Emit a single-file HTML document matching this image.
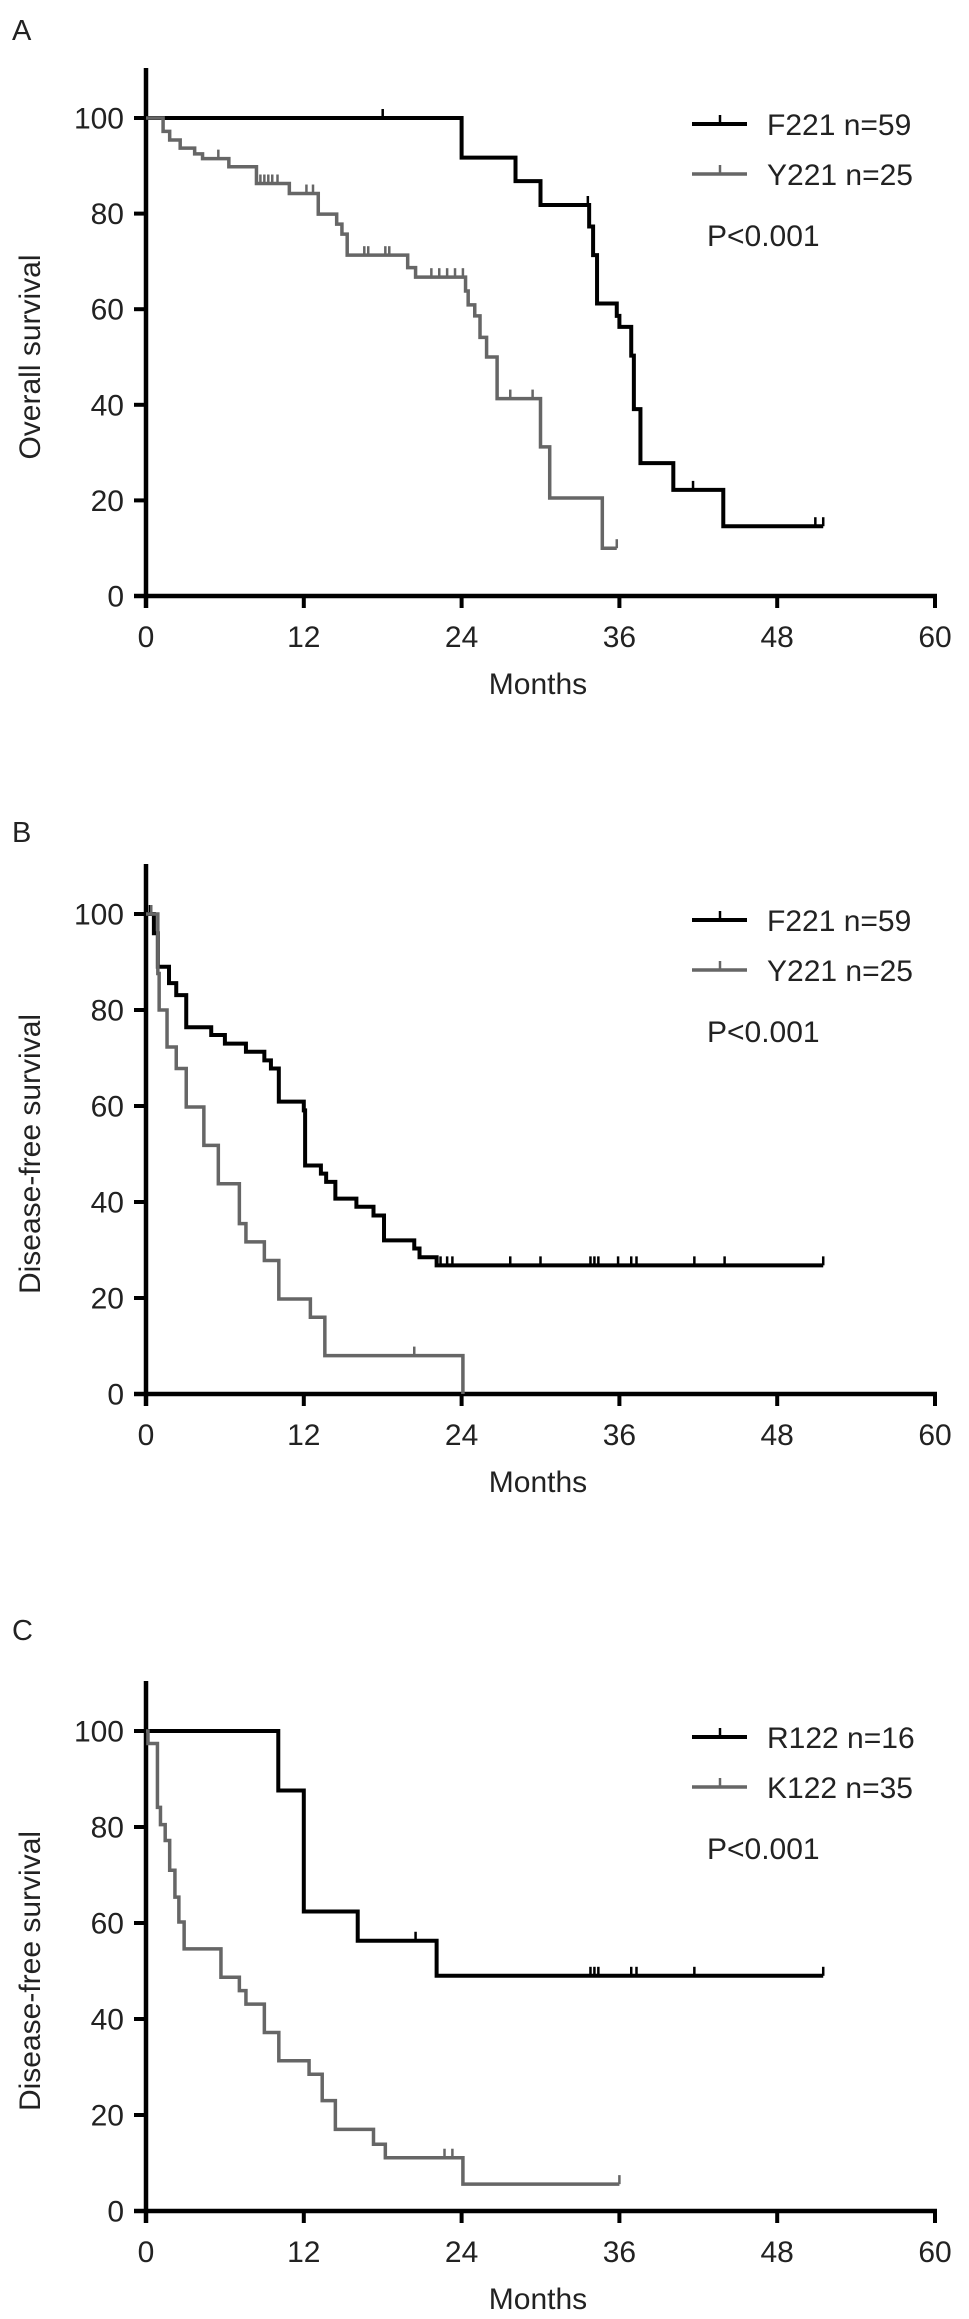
<!DOCTYPE html>
<html><head><meta charset="utf-8">
<style>
html,body{margin:0;padding:0;background:#fff;}
svg{display:block;font-family:"Liberation Sans",Arial,sans-serif;}
</style></head>
<body>
<svg id="fig" width="969" height="2319" viewBox="0 0 969 2319" xmlns="http://www.w3.org/2000/svg"></svg>
<script>
// ---- shared axis data ----
const xTicks = [0, 12, 24, 36, 48, 60];
const yTicks = [0, 20, 40, 60, 80, 100];

// ---- Panel A: overall survival ----
const aBlackTimes = [24.0, 28.1, 30.0, 33.7, 34.0, 34.3, 35.8, 36.0, 36.9, 37.1, 37.6, 40.1, 43.9];
const aBlackVals  = [91.7, 86.8, 81.8, 77.3, 71.3, 61.2, 58.6, 56.3, 50.3, 39.1, 27.8, 22.2, 14.6];
const aBlackEnd = 51.5;
const aBlackCensor = [18.0, 33.6, 41.6, 50.9, 51.5];
const aGrayTimes = [1.3, 1.8, 2.6, 3.7, 4.3, 6.3, 8.4, 10.9, 13.1, 14.5, 14.9, 15.3, 19.9, 20.5, 24.3, 24.5, 25.0, 25.4, 25.9, 26.7, 30.0, 30.7, 34.7];
const aGrayVals  = [97.2, 95.4, 93.7, 92.5, 91.5, 89.8, 86.3, 84.2, 79.9, 77.8, 75.7, 71.3, 68.7, 66.7, 63.8, 60.9, 58.6, 54.1, 50.0, 41.3, 31.2, 20.5, 10.0];
const aGrayEnd = 35.8;
const aGrayCensor = [5.5, 8.7, 9.0, 9.3, 9.6, 10.0, 12.2, 12.7, 14.5, 16.6, 16.9, 18.2, 18.5, 21.7, 22.3, 22.9, 23.5, 24.1, 25.9, 27.7, 29.4, 35.8];

// ---- Panel B: disease-free survival ----
const bBlackTimes = [0.6, 0.9, 1.75, 2.3, 3.06, 4.96, 6.0, 7.6, 9.0, 9.5, 10.1, 12.0, 12.1, 13.3, 13.7, 14.4, 16.0, 17.3, 18.1, 20.4, 20.8, 22.1];
const bBlackVals  = [96.0, 89.0, 85.6, 83.1, 76.4, 74.8, 73.0, 71.3, 69.5, 67.8, 60.9, 59.1, 47.6, 45.9, 44.2, 40.7, 39.0, 37.2, 32.0, 30.3, 28.5, 26.8];
const bBlackEnd = 51.5;
const bBlackCensor = [0.3, 22.4, 22.9, 23.3, 27.7, 30.0, 33.8, 34.1, 34.4, 35.9, 36.9, 37.3, 41.7, 44.0, 51.5];
const bGrayTimes = [0.9, 1.0, 1.6, 2.3, 3.06, 4.4, 5.5, 7.1, 7.6, 9.0, 10.1, 12.5, 13.6, 24.1];
const bGrayVals  = [87.6, 80.0, 72.3, 67.8, 59.8, 51.8, 43.8, 35.5, 31.7, 27.8, 19.8, 16.0, 8.0, 0];
const bGrayEnd = 24.1;
const bGrayCensor = [0.4, 20.4];

// ---- Panel C: disease-free survival ----
const cBlackTimes = [10.06, 12.0, 16.1, 22.1];
const cBlackVals  = [87.6, 62.4, 56.3, 49.0];
const cBlackEnd = 51.5;
const cBlackCensor = [20.5, 33.8, 34.1, 34.4, 36.9, 37.3, 41.7, 51.5];
const cGrayTimes = [0.15, 0.87, 1.1, 1.46, 1.8, 2.2, 2.5, 2.9, 5.7, 7.1, 7.6, 9.0, 10.1, 12.4, 13.4, 14.4, 17.3, 18.2, 24.1];
const cGrayVals  = [97.4, 84.1, 80.5, 77.2, 71.0, 65.4, 60.2, 54.6, 48.7, 45.9, 43.1, 37.2, 31.3, 28.5, 23.0, 17.0, 13.9, 11.1, 5.6];
const cGrayEnd = 36.0;
const cGrayCensor = [22.7, 23.3, 36.0];

const NS = "http://www.w3.org/2000/svg";
const svg = document.getElementById("fig");
function el(tag, attrs, parent) {
  const e = document.createElementNS(NS, tag);
  for (const k in attrs) e.setAttribute(k, attrs[k]);
  (parent || svg).appendChild(e);
  return e;
}
const X0 = 146, PXM = 13.15;
function xScale(m) { return X0 + m * PXM; }

function valueAt(times, vals, t) {
  let v = 100;
  for (let i = 0; i < times.length; i++) { if (times[i] <= t) v = vals[i]; }
  return v;
}

function drawPanel(p) {
  const g = el("g", {});
  
  
  const yScale = v => p.y0 - (p.y0 - p.y100) * v / 100;

  const L = el("text", {x: 12, y: p.letterY, "font-size": 29, fill: "#222"}, g);
  L.textContent = p.letter;
  
  

  const ya = el("line", {x1: X0, y1: p.y100 - 50, x2: X0, y2: p.y0 + 12, stroke: "#000", "stroke-width": 4.5}, g);
  
  
  const xa = el("line", {x1: X0 - 12, y1: p.y0, x2: xScale(60) + 2, y2: p.y0, stroke: "#000", "stroke-width": 4.5}, g);
  
  

  yTicks.forEach(v => {
    const yy = yScale(v);
    const tk = el("line", {x1: X0 - 12, y1: yy, x2: X0, y2: yy, stroke: "#000", "stroke-width": 4}, g);
    
    
    const t = el("text", {x: 124, y: yy + 10.5, "font-size": 30, "text-anchor": "end", fill: "#222"}, g);
    t.textContent = v;
    
    
  });
  xTicks.forEach(m => {
    const xx = xScale(m);
    const tk = el("line", {x1: xx, y1: p.y0, x2: xx, y2: p.y0 + 12, stroke: "#000", "stroke-width": 4}, g);
    
    
    const t = el("text", {x: xx, y: p.y0 + 51, "font-size": 30, "text-anchor": "middle", fill: "#222"}, g);
    t.textContent = m;
    
    
  });

  const xt = el("text", {x: 538, y: p.y0 + 98, "font-size": 30, "text-anchor": "middle", fill: "#222"}, g);
  xt.textContent = "Months";
  
  
  const cy = (p.y0 + p.y100) / 2;
  const yt = el("text", {x: 40, y: cy, "font-size": 30, "text-anchor": "middle", fill: "#222", transform: `rotate(-90 40 ${cy})`}, g);
  yt.textContent = p.ylabel;
  
  

  p.series.forEach(s => {
    let d = `M${xScale(0)},${yScale(100)}`;
    for (let i = 0; i < s.times.length; i++) {
      d += ` H${xScale(s.times[i])} V${yScale(s.vals[i])}`;
    }
    d += ` H${xScale(s.end)}`;
    const path = el("path", {d: d, fill: "none", stroke: s.color, "stroke-width": s.w, "stroke-linejoin": "miter"}, g);
    
    
    s.censor.forEach(t => {
      const xx = xScale(t), yy = yScale(valueAt(s.times, s.vals, t));
      const c = el("line", {x1: xx, y1: yy, x2: xx, y2: yy - 9, stroke: s.color, "stroke-width": 2.5}, g);
      
      
    });
  });

  p.series.forEach((s, i) => {
    const ly = p.y100 + 6 + i * 50;
    const lg = el("g", {}, g);
    
    
    el("line", {x1: 692, y1: ly, x2: 747, y2: ly, stroke: s.color, "stroke-width": s.w}, lg);
    el("line", {x1: 720, y1: ly, x2: 720, y2: ly - 9, stroke: s.color, "stroke-width": 2.5}, lg);
    const t = el("text", {x: 767, y: ly + 11, "font-size": 30, fill: "#222"}, lg);
    t.textContent = s.label;
  });
  const pv = el("text", {x: 707, y: p.y100 + 128, "font-size": 30, fill: "#222"}, g);
  pv.textContent = "P<0.001";
  
  
}

drawPanel({name: "panel-a", letter: "A", letterY: 40, y0: 596, y100: 118, ylabel: "Overall survival",
  series: [
    {key: "f221", label: "F221 n=59", times: aBlackTimes, vals: aBlackVals, end: aBlackEnd, censor: aBlackCensor, color: "#000", w: 4},
    {key: "y221", label: "Y221 n=25", times: aGrayTimes, vals: aGrayVals, end: aGrayEnd, censor: aGrayCensor, color: "#666", w: 3.5}
  ]});
drawPanel({name: "panel-b", letter: "B", letterY: 842, y0: 1394, y100: 914, ylabel: "Disease-free survival",
  series: [
    {key: "f221", label: "F221 n=59", times: bBlackTimes, vals: bBlackVals, end: bBlackEnd, censor: bBlackCensor, color: "#000", w: 4},
    {key: "y221", label: "Y221 n=25", times: bGrayTimes, vals: bGrayVals, end: bGrayEnd, censor: bGrayCensor, color: "#666", w: 3.5}
  ]});
drawPanel({name: "panel-c", letter: "C", letterY: 1640, y0: 2211, y100: 1731, ylabel: "Disease-free survival",
  series: [
    {key: "r122", label: "R122 n=16", times: cBlackTimes, vals: cBlackVals, end: cBlackEnd, censor: cBlackCensor, color: "#000", w: 4},
    {key: "k122", label: "K122 n=35", times: cGrayTimes, vals: cGrayVals, end: cGrayEnd, censor: cGrayCensor, color: "#666", w: 3.5}
  ]});
</script>
</body></html>
